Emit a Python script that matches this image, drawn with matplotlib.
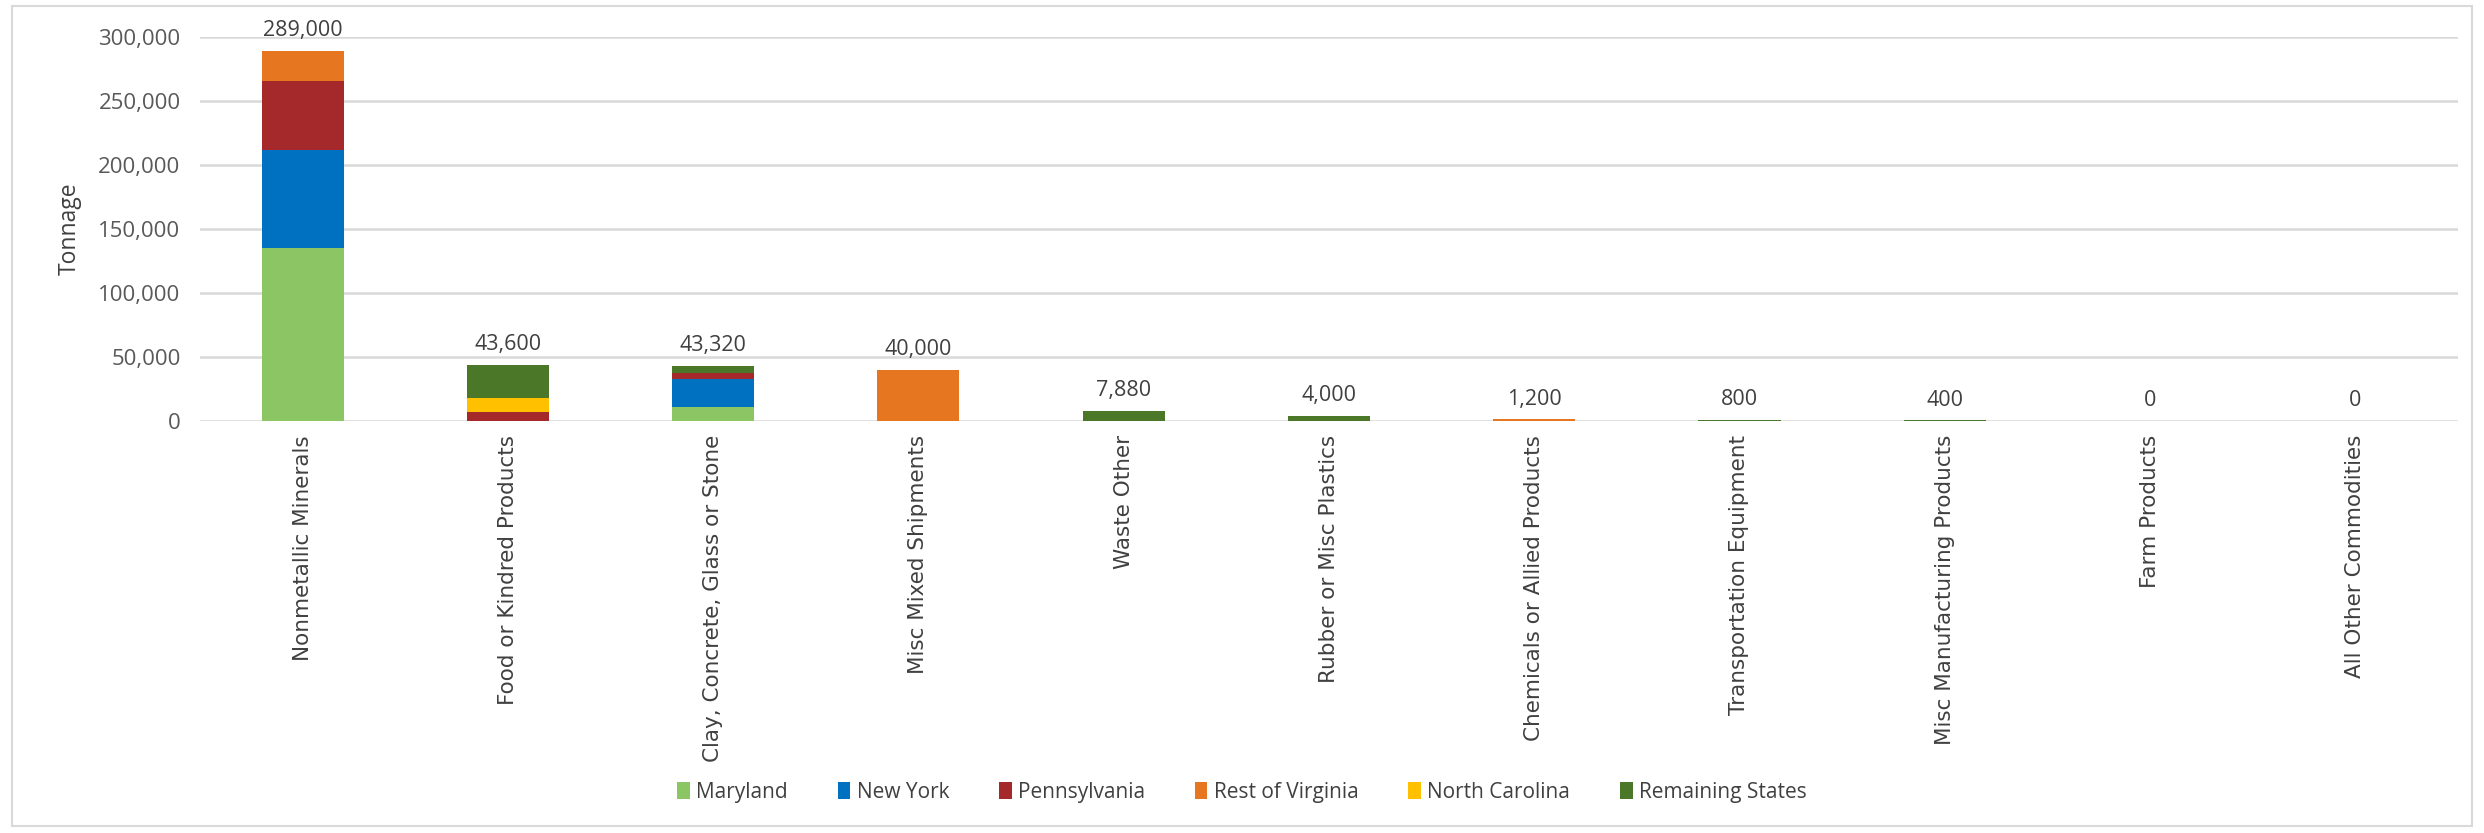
import matplotlib.pyplot as plt
import numpy as np
from matplotlib.patches import Rectangle

# Tonnage by commodity, split by state
categories = ['Nonmetallic Minerals', 'Food or Kindred Products', 'Clay, Concrete, Glass or Stone',
              'Misc Mixed Shipments', 'Waste Other', 'Rubber or Misc Plastics',
              'Chemicals or Allied Products', 'Transportation Equipment',
              'Misc Manufacturing Products', 'Farm Products', 'All Other Commodities']

maryland = [135000, 0, 11000, 0, 0, 0, 0, 0, 0, 0, 0]
new_york = [77000, 0, 22000, 0, 0, 0, 0, 0, 0, 0, 0]
pennsylvania = [54000, 7000, 4400, 0, 0, 0, 0, 0, 0, 0, 0]
rest_of_virginia = [23000, 0, 0, 40000, 0, 0, 1200, 0, 0, 0, 0]
north_carolina = [0, 11000, 0, 0, 0, 0, 0, 0, 0, 0, 0]
remaining_states = [0, 25600, 5920, 0, 7880, 4000, 0, 800, 400, 0, 0]

series_names = ['Maryland', 'New York', 'Pennsylvania', 'Rest of Virginia', 'North Carolina', 'Remaining States']
series = [maryland, new_york, pennsylvania, rest_of_virginia, north_carolina, remaining_states]
colors = ['#8CC664', '#0070C0', '#A5282A', '#E6761F', '#FFC000', '#4B7728']

fig = plt.figure(figsize=(24.84, 8.33), dpi=100)
ax = fig.add_axes([0.0805, 0.4946, 0.909, 0.461])

x = np.arange(len(categories))
bottom = np.zeros(len(categories))
for name, vals, c in zip(series_names, series, colors):
    ax.bar(x, vals, 0.4, bottom=bottom, color=c, label=name, zorder=3)
    bottom += np.array(vals)

# totals above bars
for xi, tot in zip(x, bottom):
    ax.annotate(f'{int(tot):,}', (xi, tot), xytext=(0, 7), textcoords='offset points',
                ha='center', va='bottom', fontsize=15.5, color='#404040',
                family='Open Sans', annotation_clip=False)

ax.set_xlim(-0.5, len(categories) - 0.5)
ax.set_ylim(0, 300000)
ax.set_yticks(np.arange(0, 300001, 50000))
ax.set_yticklabels([f'{v:,}' for v in range(0, 300001, 50000)], fontsize=16,
                   color='#595959', family='Open Sans')
ax.set_xticks(x)
ax.set_xticklabels(categories, rotation=90, fontsize=15.5, color='#404040')
ax.tick_params(length=0, pad=14)
ax.tick_params(axis='x', pad=10)
ax.grid(axis='y', color='#D9D9D9', linewidth=1.8, zorder=0)
for s in ax.spines.values():
    s.set_visible(False)
ax.set_ylabel('Tonnage', fontsize=16.5, color='#404040', family='Open Sans', labelpad=12)

fig.legend(loc='center', bbox_to_anchor=(0.5, 0.049), ncol=6, frameon=False,
           handlelength=0.6, handleheight=0.9, handletextpad=0.3, columnspacing=2.4,
           prop={'family': 'Open Sans', 'size': 15}, labelcolor='#404040')

fig.patches.append(Rectangle((0.005, 0.008), 0.99, 0.985, transform=fig.transFigure,
                             fill=False, edgecolor='#D9D9D9', linewidth=1.5))

fig.savefig('out.png', dpi=100)
